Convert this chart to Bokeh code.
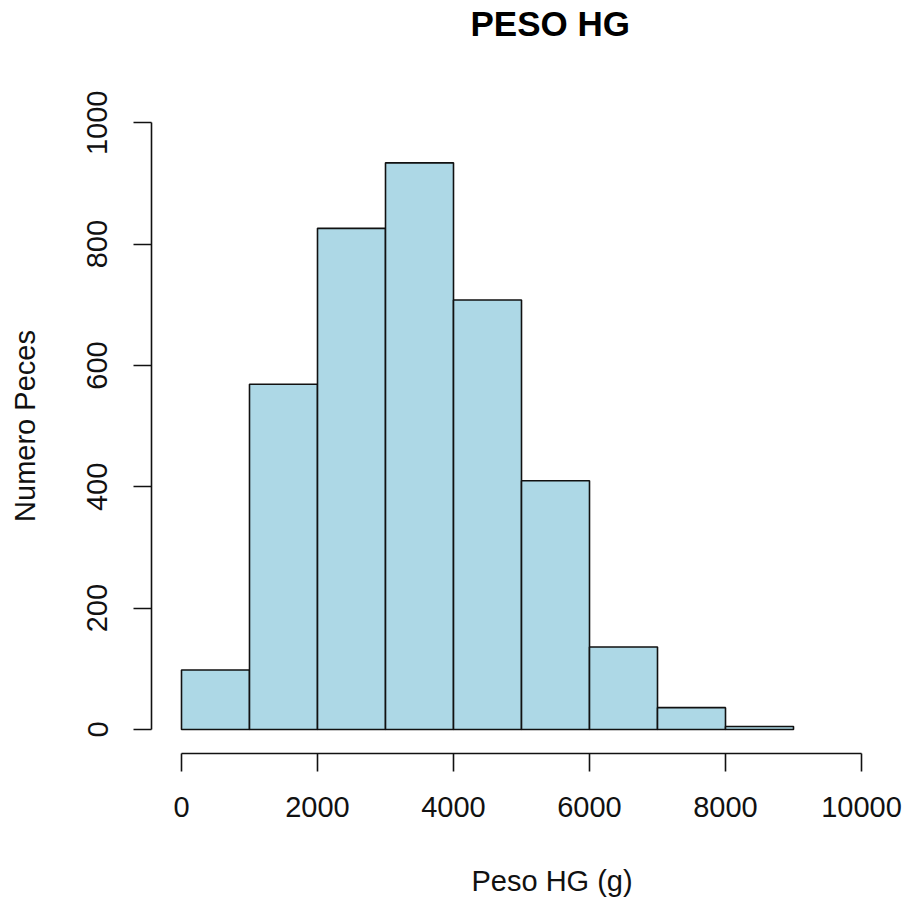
from bokeh.plotting import figure
from bokeh.models import Range1d, FixedTicker, Label
from bokeh.embed import file_html
from bokeh.resources import INLINE

# Data
breaks = [0, 1000, 2000, 3000, 4000, 5000, 6000, 7000, 8000, 9000]
counts = [98, 569, 826, 934, 708, 410, 136, 36, 5]
x_ticks = [0, 2000, 4000, 6000, 8000, 10000]
y_ticks = [0, 200, 400, 600, 800, 1000]
title_text = "PESO HG"
x_label = "Peso HG (g)"
y_label = "Numero Peces"

FONT = "Liberation Sans"

# layout: the frame fills the whole figure; axes are drawn at fixed data locations
W, H = 902, 902
px_x = 680.0 / 10000          # px per unit in x
px_y = 606.7 / 1000           # px per unit in y
x_zero = 181                  # pixel of x=0 from the left
y_zero = 729                  # pixel of y=0 from the top
x_start = -x_zero / px_x
y_start = -(H - y_zero) / px_y

p = figure(width=W, height=H, output_backend="svg", toolbar_location=None,
           x_range=Range1d(x_start, x_start + W / px_x),
           y_range=Range1d(y_start, y_start + H / px_y),
           min_border=0, min_border_left=0, min_border_right=0,
           min_border_top=0, min_border_bottom=0)

p.quad(left=breaks[:-1], right=breaks[1:], bottom=0, top=counts,
       fill_color="#ADD8E6", line_color="#111111", line_width=1.6)

p.grid.visible = False
p.outline_line_color = None
p.background_fill_color = "white"
p.border_fill_color = "white"

xax, yax = p.xaxis[0], p.yaxis[0]
xax.fixed_location = -24.0 / px_y
yax.fixed_location = -30.0 / px_x

for ax, ticks, b in ((xax, x_ticks, (0, 10000)), (yax, y_ticks, (0, 1000))):
    ax.ticker = FixedTicker(ticks=ticks)
    ax.bounds = b
    ax.axis_line_color = "#111111"
    ax.axis_line_width = 1.6
    ax.major_tick_line_color = "#111111"
    ax.major_tick_line_width = 1.6
    ax.major_tick_out = 18
    ax.major_tick_in = 0
    ax.minor_tick_line_color = None
    ax.major_label_text_font = FONT
    ax.major_label_text_font_size = "29px"
    ax.major_label_text_color = "#111111"

xax.major_label_standoff = 25
yax.major_label_standoff = 26
yax.major_label_orientation = "vertical"
yax.axis_label = y_label
yax.axis_label_text_font = FONT
yax.axis_label_text_font_size = "29px"
yax.axis_label_text_font_style = "normal"
yax.axis_label_text_color = "#111111"
yax.axis_label_standoff = 44

# title and x-axis label in screen px (from the frame's bottom-left corner)
t = Label(x=470, y=H - 23,
          x_units="screen", y_units="screen", text=title_text,
          text_font=FONT, text_font_size="35px", text_font_style="bold",
          text_color="black", text_align="left", text_baseline="middle")
p.add_layout(t)

xl = Label(x=471, y=H - 880.5,
           x_units="screen", y_units="screen", text=x_label,
           text_font=FONT, text_font_size="29px", text_color="#111111",
           text_align="left", text_baseline="middle")
p.add_layout(xl)

open("out.html", "w").write(file_html(p, INLINE))
